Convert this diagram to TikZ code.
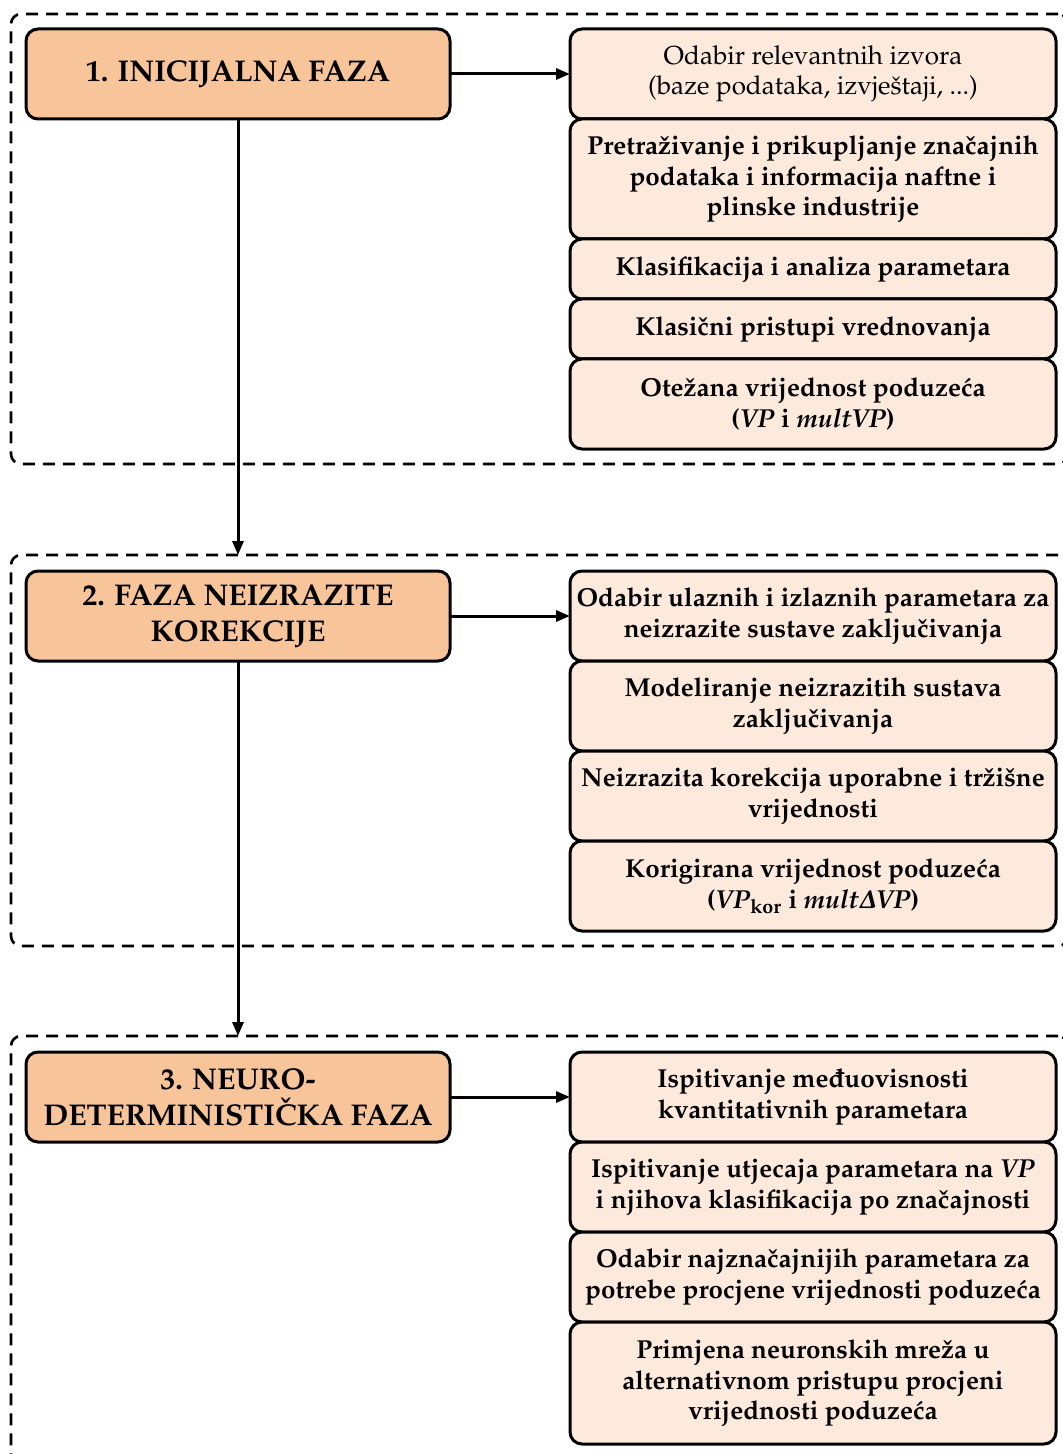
\documentclass[tikz,border=0pt]{standalone}
\usepackage[T1]{fontenc}
\usepackage{amsmath}
\usepackage{mathpazo}
\usepackage{tikz}
\usetikzlibrary{arrows.meta, positioning}
\definecolor{phasefill}{HTML}{F8C59A}
\definecolor{taskfill}{HTML}{FDEADC}

\begin{document}
\begin{tikzpicture}[node distance=0pt]

\tikzstyle{group}=[rectangle,draw,dash pattern=on 6pt off 4pt,line width=1.3pt,rounded corners=5pt,minimum width=528.5pt,inner sep=0pt,outer sep=0pt]
\tikzstyle{phase}=[rectangle,draw,line width=1.5pt,rounded corners=6pt,fill=phasefill,minimum width=212pt,minimum height=45pt,align=center,outer sep=0pt,font=\fontsize{15}{18}\selectfont\bfseries]
\tikzstyle{task}=[rectangle,draw,line width=1.5pt,rounded corners=6pt,fill=taskfill,minimum width=243pt,minimum height=45pt,align=center,inner sep=1pt,outer sep=0pt,font=\fontsize{13}{15.25}\selectfont\bfseries\boldmath]
\tikzstyle{line}=[draw,line width=1.5pt,-{Triangle[length=7pt,width=5.5pt]}]

\useasboundingbox (0,0) rectangle (531pt,-727pt);

% Phase groups
\node (grp1) [group,minimum height=225pt,anchor=north west] at (5.5pt,-7pt) {};
\node (grp2) [group,minimum height=195.5pt,below=45.5pt of grp1] {};
\node (grp3) [group,minimum height=240pt,below=45pt of grp2] {};

% Phases
\node (init) [phase,below right=7.5pt and 7.5pt of grp1.north west] {1. INICIJALNA FAZA};
\node (fuzzy) [phase,below right=8pt and 7.5pt of grp2.north west] {2. FAZA NEIZRAZITE\\KOREKCIJE};
\node (neuro) [phase,below right=8pt and 7.5pt of grp3.north west] {3. NEURO-\\DETERMINISTI\v{C}KA FAZA};

% Phase 1 tasks
\node (src) [task,right=60pt of init,font=\fontsize{13}{15.25}\selectfont\mdseries] {Odabir relevantnih izvora\\(baze podataka, izvje\v{s}taji, ...)};
\node (search) [task,below=of src,minimum height=60pt] {Pretra\v{z}ivanje i prikupljanje zna\v{c}ajnih\\podataka i informacija naftne i\\plinske industrije};
\node (classif) [task,below=of search,minimum height=30pt] {Klasifikacija i analiza parametara};
\node (classic) [task,below=of classif,minimum height=30pt] {Klasi\v{c}ni pristupi vrednovanja};
\node (weighted) [task,below=of classic] {Ote\v{z}ana vrijednost poduze\'ca\\(\textit{VP} i \textit{multVP})};

% Phase 2 tasks
\node (io) [task,right=60pt of fuzzy] {Odabir ulaznih i izlaznih parametara za\\neizrazite sustave zaklju\v{c}ivanja};
\node (model) [task,below=of io] {Modeliranje neizrazitih sustava\\zaklju\v{c}ivanja};
\node (correct) [task,below=of model] {Neizrazita korekcija uporabne i tr\v{z}i\v{s}ne\\vrijednosti};
\node (corrected) [task,below=of correct] {Korigirana vrijednost poduze\'ca\\(\textit{VP}\textsubscript{kor} i \textit{mult}$\varDelta$\textit{VP})};

% Phase 3 tasks
\node (interdep) [task,right=60pt of neuro] {Ispitivanje me\dj uovisnosti\\kvantitativnih parametara};
\node (impact) [task,below=of interdep] {Ispitivanje utjecaja parametara na \textit{VP}\\i njihova klasifikacija po zna\v{c}ajnosti};
\node (select) [task,below=of impact] {Odabir najzna\v{c}ajnijih parametara za\\potrebe procjene vrijednosti poduze\'ca};
\node (ann) [task,below=of select,minimum height=61pt] {Primjena neuronskih mre\v{z}a u\\alternativnom pristupu procjeni\\vrijednosti poduze\'ca};

% Connections
\draw[line] (init) -- (src);
\draw[line] (fuzzy) -- (io);
\draw[line] (neuro) -- (interdep);

\draw[line] (init) -- (init |- grp2.north);
\draw[line] (fuzzy) -- (fuzzy |- grp3.north);

\end{tikzpicture}
\end{document}
